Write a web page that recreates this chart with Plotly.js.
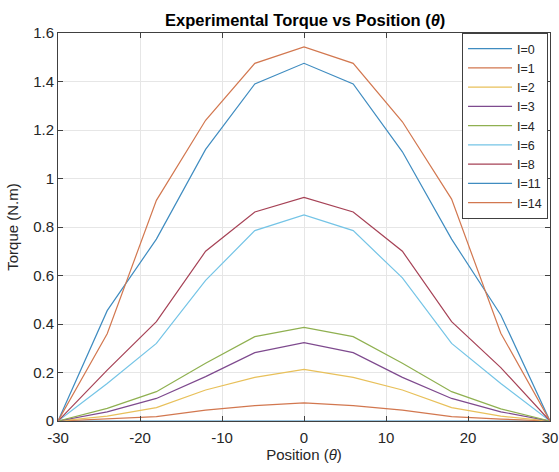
<!DOCTYPE html>
<html>
<head>
<meta charset="utf-8">
<script src="https://cdn.plot.ly/plotly-3.0.1.min.js"></script>
<style>html,body{margin:0;padding:0;background:#fff;}#chart{width:559px;height:472px;}</style>
</head>
<body>
<div id="chart"></div>
<script>
var positions = [-30, -24, -18, -12, -6, 0, 6, 12, 18, 24, 30];
var seriesNames = ["I=0", "I=1", "I=2", "I=3", "I=4", "I=6", "I=8", "I=11", "I=14"];
var torqueI0  = [0, 0, 0, 0, 0, 0, 0, 0, 0, 0, 0];
var torqueI1  = [0, 0.008, 0.018, 0.045, 0.063, 0.075, 0.063, 0.045, 0.018, 0.008, 0];
var torqueI2  = [0, 0.02, 0.055, 0.128, 0.18, 0.213, 0.18, 0.128, 0.055, 0.02, 0];
var torqueI3  = [0, 0.038, 0.093, 0.183, 0.282, 0.323, 0.282, 0.18, 0.093, 0.038, 0];
var torqueI4  = [0, 0.052, 0.121, 0.238, 0.348, 0.386, 0.348, 0.238, 0.121, 0.05, 0];
var torqueI6  = [0, 0.155, 0.32, 0.58, 0.785, 0.85, 0.785, 0.59, 0.32, 0.155, 0];
var torqueI8  = [0, 0.21, 0.41, 0.70, 0.862, 0.922, 0.862, 0.70, 0.41, 0.22, 0];
var torqueI11 = [0, 0.455, 0.75, 1.12, 1.39, 1.475, 1.39, 1.11, 0.75, 0.437, 0];
var torqueI14 = [0, 0.36, 0.91, 1.24, 1.475, 1.543, 1.475, 1.234, 0.915, 0.362, 0];
var xTicks = [-30, -20, -10, 0, 10, 20, 30];
var yTicks = [0, 0.2, 0.4, 0.6, 0.8, 1, 1.2, 1.4, 1.6];

var allSeries = [torqueI0, torqueI1, torqueI2, torqueI3, torqueI4, torqueI6, torqueI8, torqueI11, torqueI14];
var colors = ["#3f8cc0", "#d2774f", "#e8c05a", "#7e4a8e", "#8fb050", "#74c4e6", "#a64256", "#3f8cc0", "#d2774f"];

var traces = allSeries.map(function (ys, i) {
  return {
    x: positions, y: ys, type: "scatter", mode: "lines",
    name: seriesNames[i],
    line: {color: colors[i], width: 1.2}
  };
});

var FONT = "Liberation Sans, Arial, sans-serif";
var axisCommon = {
  showgrid: true, gridcolor: "#e6e6e6", gridwidth: 1,
  zeroline: false, showline: true, linecolor: "#404040", linewidth: 1,
  mirror: "ticks", ticks: "inside", ticklen: 5, tickcolor: "#404040",
  ticklabeloverflow: "allow",
  tickfont: {family: FONT, size: 15, color: "#262626"}
};

var layout = {
  width: 559, height: 472,
  margin: {l: 58, r: 9, t: 33, b: 51},
  paper_bgcolor: "#ffffff", plot_bgcolor: "#ffffff",
  title: {
    text: "<b>Experimental Torque vs Position (<i>θ</i>)</b>",
    font: {family: FONT, size: 16.5, color: "#000"},
    x: 0.546, xanchor: "center", y: 0.957, yanchor: "middle"
  },
  xaxis: Object.assign({}, axisCommon, {
    range: [-30, 30], tickvals: xTicks, ticktext: xTicks.map(String),
    ticklabelstandoff: 3,
    title: {text: "Position (<i>θ</i>)", standoff: 2,
      font: {family: FONT, size: 15, color: "#262626"}}
  }),
  yaxis: Object.assign({}, axisCommon, {
    range: [0, 1.6], tickvals: yTicks, ticktext: yTicks.map(String),
    title: {text: "Torque (N.m)", standoff: 10,
      font: {family: FONT, size: 15, color: "#262626"}}
  }),
  legend: {
    x: 0.996, xanchor: "right", y: 1, yanchor: "top",
    bgcolor: "#ffffff", bordercolor: "#404040", borderwidth: 1,
    font: {family: FONT, size: 12.5, color: "#262626"},
    tracegroupgap: 0, itemwidth: 44
  },
  showlegend: true
};

Plotly.newPlot("chart", traces, layout, {staticPlot: true, displayModeBar: false});
</script>
</body>
</html>
